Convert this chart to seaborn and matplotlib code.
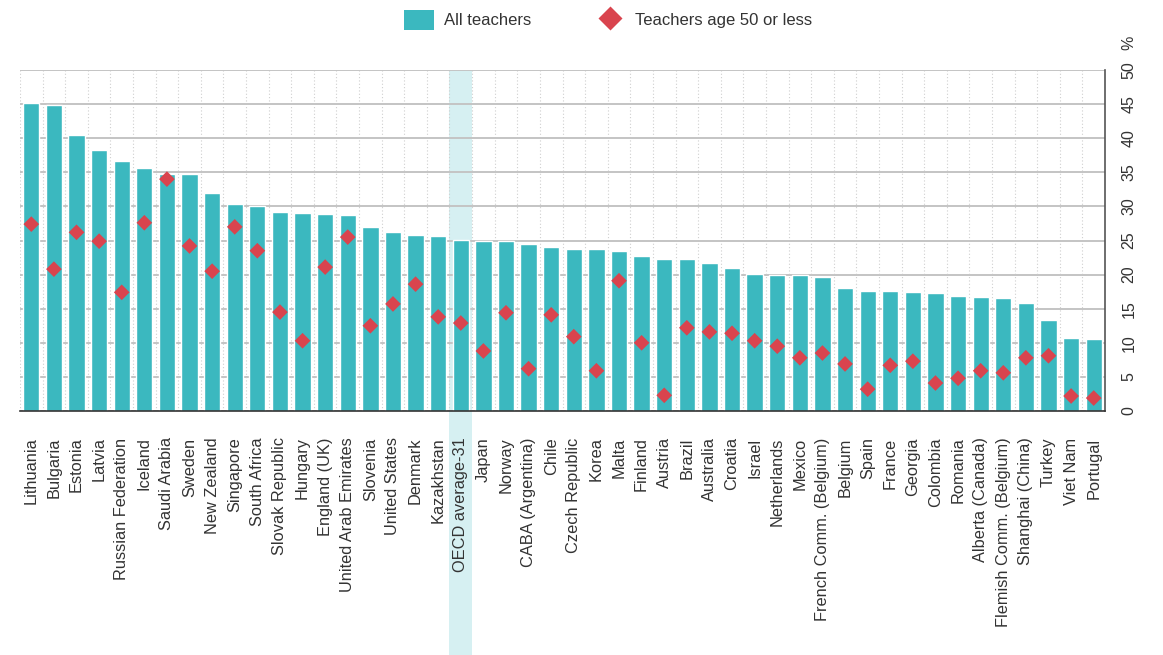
import matplotlib
matplotlib.use('Agg')
from matplotlib import pyplot as plt
from matplotlib.lines import Line2D
from matplotlib.patches import Patch
import matplotlib.ticker as plticker
import seaborn as sns
import pandas as pd

countries = ['Lithuania', 'Bulgaria', 'Estonia', 'Latvia', 'Russian Federation', 'Iceland',
             'Saudi Arabia', 'Sweden', 'New Zealand', 'Singapore', 'South Africa',
             'Slovak Republic', 'Hungary', 'England (UK)', 'United Arab Emirates', 'Slovenia',
             'United States', 'Denmark', 'Kazakhstan', 'OECD average-31', 'Japan', 'Norway',
             'CABA (Argentina)', 'Chile', 'Czech Republic', 'Korea', 'Malta', 'Finland',
             'Austria', 'Brazil', 'Australia', 'Croatia', 'Israel', 'Netherlands', 'Mexico',
             'French Comm. (Belgium)', 'Belgium', 'Spain', 'France', 'Georgia', 'Colombia',
             'Romania', 'Alberta (Canada)', 'Flemish Comm. (Belgium)', 'Shanghai (China)',
             'Turkey', 'Viet Nam', 'Portugal']

all_teachers = [45.2, 44.9, 40.5, 38.3, 36.7, 35.7, 34.8, 34.8, 32.0, 30.4, 30.0,
                29.2, 29.0, 28.9, 28.7, 27.0, 26.2, 25.8, 25.7, 25.1, 24.9, 24.9,
                24.5, 24.0, 23.8, 23.8, 23.5, 22.7, 22.3, 22.3, 21.7, 21.0, 20.1,
                19.9, 19.9, 19.6, 18.0, 17.6, 17.6, 17.4, 17.3, 16.9, 16.7, 16.6,
                15.8, 13.3, 10.7, 10.6]

age_50_or_less = [27.4, 20.8, 26.2, 24.9, 17.4, 27.6, 34.0, 24.2, 20.5, 27.0, 23.5,
                  14.5, 10.3, 21.1, 25.5, 12.5, 15.7, 18.6, 13.8, 12.9, 8.8, 14.4,
                  6.2, 14.1, 10.9, 5.9, 19.1, 10.0, 2.3, 12.2, 11.6, 11.4, 10.3,
                  9.5, 7.8, 8.5, 6.9, 3.2, 6.7, 7.3, 4.1, 4.8, 5.9, 5.6,
                  7.8, 8.1, 2.2, 1.9]

y_ticks = [0, 5, 10, 15, 20, 25, 30, 35, 40, 45, 50]
highlight = 'OECD average-31'

bar_col = '#3BB8BF'
dot_col = '#D9444E'
hl_col = '#D6F0F2'
txt_col = '#333333'

df = pd.DataFrame({'country': countries, 'all': all_teachers, 'u50': age_50_or_less})

sns.set_style('white')
plt.rcParams['font.family'] = ['Liberation Sans', 'DejaVu Sans']

fig = plt.figure(figsize=(11.63, 6.55), dpi=100)
ax = fig.add_axes([20/1163, 1-411/655, 1085/1163, 341/655])

# highlight the OECD average column, reaching down behind its label
hl = countries.index(highlight)
ax.axvspan(hl-0.5, hl+0.5, ymin=-0.72, ymax=1, color=hl_col, zorder=0, clip_on=False, lw=0)

sns.barplot(data=df, x='country', y='all', color=bar_col, saturation=1, width=0.72,
            ax=ax, zorder=2)
sns.scatterplot(data=df, x='country', y='u50', marker='D', color=dot_col, s=64,
                edgecolor='none', ax=ax, zorder=3)

ax.set_xlim(-0.5, len(countries)-0.5)
ax.set_ylim(0, 50)
ax.set_xlabel('')
ax.set_ylabel('')

# grid: solid horizontals, dotted verticals between bars
ax.set_yticks(y_ticks)
ax.yaxis.tick_right()
ax.grid(axis='y', color='#C4C4C4', lw=1.4, ls='-', zorder=1)
ax.xaxis.set_minor_locator(plticker.FixedLocator([i+0.5 for i in range(-1, len(countries))]))
ax.grid(axis='x', which='minor', color='#CFCFCF', lw=0.8, ls=(0, (1, 2)), zorder=1)
ax.set_axisbelow(True)

ax.tick_params(axis='x', which='both', length=0, pad=19, labelsize=11.8, labelcolor=txt_col)
ax.tick_params(axis='y', length=0, pad=12, labelsize=11.5, labelcolor=txt_col)
plt.setp(ax.get_xticklabels(), rotation=90)
plt.setp(ax.get_yticklabels(), rotation=90, va='center')

for s in ['top', 'left']:
    ax.spines[s].set_visible(False)
ax.spines['bottom'].set_color('#333333')
ax.spines['right'].set_color('#555555')
ax.spines['bottom'].set_linewidth(1.2)
ax.spines['right'].set_linewidth(1.2)

fig.text(1129/1163, 1-43/655, '%', rotation=90, ha='center', va='center',
         fontsize=11.5, color=txt_col)

handles = [Patch(facecolor=bar_col, edgecolor='none', label='All teachers'),
           Line2D([], [], marker='D', color='none', markerfacecolor=dot_col,
                  markeredgecolor='none', markersize=12, label='Teachers age 50 or less')]
fig.legend(handles=handles, loc='center', bbox_to_anchor=(608/1163, 1-20/655), ncol=2,
           frameon=False, fontsize=12, handlelength=1.8, handleheight=1.55,
           columnspacing=3.8, handletextpad=0.6, labelcolor=txt_col)

fig.savefig('out.png', dpi=100)
